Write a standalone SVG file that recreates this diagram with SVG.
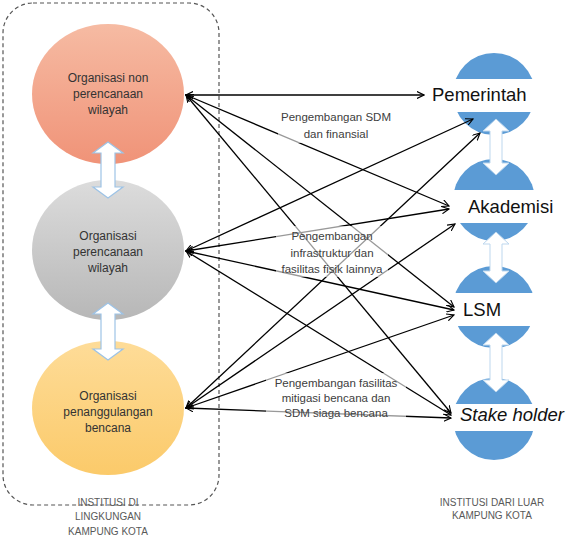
<svg xmlns="http://www.w3.org/2000/svg" width="574" height="545" viewBox="0 0 574 545">
<defs>
<linearGradient id="gO" x1="0" y1="0" x2="0" y2="1"><stop offset="0" stop-color="#f6bba3"/><stop offset="1" stop-color="#f09378"/></linearGradient>
<linearGradient id="gG" x1="0" y1="0" x2="0" y2="1"><stop offset="0" stop-color="#dcdcdc"/><stop offset="1" stop-color="#b7b7b7"/></linearGradient>
<linearGradient id="gY" x1="0" y1="0" x2="0" y2="1"><stop offset="0" stop-color="#fedc98"/><stop offset="1" stop-color="#fbca6a"/></linearGradient>
<marker id="ah" viewBox="0 0 10 10" refX="9" refY="5" markerWidth="8" markerHeight="8" markerUnits="userSpaceOnUse" orient="auto-start-reverse">
<path d="M0,0.5 L9,5 L0,9.5" fill="none" stroke="#000" stroke-width="1.4"/>
</marker>
</defs>
<style>
.frame{fill:none;stroke:#555;stroke-width:1.2;stroke-dasharray:4 3}
.ct{font-family:"Liberation Sans",Arial,sans-serif;font-size:12px;fill:#333;text-anchor:middle}
.lb{font-family:"Liberation Sans",Arial,sans-serif;font-size:11.5px;fill:#404040;text-anchor:middle}
.cap{font-family:"Liberation Sans",Arial,sans-serif;font-size:10px;fill:#595959;text-anchor:middle}
.rt{font-family:"Liberation Sans",Arial,sans-serif;font-size:18.5px;fill:#111}
.blue{fill:#5b9bd5}
.band{fill:#fff}
.dl{fill:#fff;stroke:#9dc3e6;stroke-width:1.2}
.dr{fill:#fff;stroke:#bdd7ee;stroke-width:1}
.cn line{stroke:#000;stroke-width:1.3;marker-start:url(#ah);marker-end:url(#ah)}
.box{fill:#fff;fill-opacity:0.6}
</style>
<rect class="frame" x="3" y="3" width="216" height="502" rx="30"/>
<g id="org-non">
<ellipse cx="108" cy="94" rx="76" ry="70" fill="url(#gO)"/>
<text class="ct" x="108" y="82">Organisasi non</text>
<text class="ct" x="108" y="98">perencanaan</text>
<text class="ct" x="108" y="114">wilayah</text>
</g>
<g id="org-per">
<ellipse cx="108" cy="250" rx="76" ry="70" fill="url(#gG)"/>
<text class="ct" x="108" y="240">Organisasi</text>
<text class="ct" x="108" y="256">perencanaan</text>
<text class="ct" x="108" y="272">wilayah</text>
</g>
<g id="org-pb">
<ellipse cx="108" cy="408" rx="76" ry="67" fill="url(#gY)"/>
<text class="ct" x="108" y="400">Organisasi</text>
<text class="ct" x="108" y="416">penanggulangan</text>
<text class="ct" x="108" y="432">bencana</text>
</g>
<g id="pemerintah">
<circle class="blue" cx="494" cy="94" r="41"/>
<rect class="band" x="450" y="79" width="90" height="33"/>
<text class="rt" x="432" y="101">Pemerintah</text>
</g>
<g id="akademisi">
<circle class="blue" cx="494" cy="200" r="41"/>
<rect class="band" x="450" y="190" width="90" height="33"/>
<text class="rt" x="468" y="213">Akademisi</text>
</g>
<g id="lsm">
<circle class="blue" cx="494" cy="307" r="41"/>
<rect class="band" x="450" y="293" width="90" height="33"/>
<text class="rt" x="463" y="316">LSM</text>
</g>
<g id="stakeholder">
<circle class="blue" cx="494" cy="419" r="41"/>
<rect class="band" x="450" y="404" width="90" height="27"/>
<text class="rt" x="460" y="421" font-style="italic">Stake holder</text>
</g>
<g id="double-arrows">
<path class="dl" d="M108,142 L123,153 L115,153 L115,187 L123,187 L108,198 L93,187 L101,187 L101,153 L93,153 Z"/>
<path class="dl" d="M108,303 L123,314 L115,314 L115,349 L123,349 L108,360 L93,349 L101,349 L101,314 L93,314 Z"/>
<path class="dr" d="M496,119 L509,131 L502,131 L502,163 L509,163 L496,175 L483,163 L490,163 L490,131 L483,131 Z"/>
<path class="dr" d="M496,232 L509,244 L502,244 L502,271 L509,271 L496,283 L483,271 L490,271 L490,244 L483,244 Z"/>
<path class="dr" d="M496,333 L509,345 L502,345 L502,380 L509,380 L496,392 L483,380 L490,380 L490,345 L483,345 Z"/>
</g>
<g id="connectors" class="cn">
<line x1="186" y1="95" x2="424" y2="95"/>
<line x1="186" y1="95" x2="449" y2="206"/>
<line x1="186" y1="95" x2="454" y2="307"/>
<line x1="186" y1="95" x2="451" y2="413"/>
<line x1="186" y1="251" x2="473" y2="119"/>
<line x1="186" y1="251" x2="449" y2="209"/>
<line x1="186" y1="251" x2="454" y2="310"/>
<line x1="186" y1="251" x2="451" y2="415"/>
<line x1="186" y1="408" x2="480" y2="133"/>
<line x1="186" y1="408" x2="455" y2="224"/>
<line x1="186" y1="408" x2="454" y2="315"/>
<line x1="186" y1="408" x2="451" y2="418"/>
</g>
<g id="label-sdm">
<rect class="box" x="278" y="107" width="117" height="36"/>
<text class="lb" x="336" y="121">Pengembangan SDM</text>
<text class="lb" x="336" y="138">dan finansial</text>
</g>
<g id="label-infra">
<rect class="box" x="276" y="226" width="112" height="51"/>
<text class="lb" x="332" y="240">Pengembangan</text>
<text class="lb" x="332" y="257">infrastruktur dan</text>
<text class="lb" x="332" y="273">fasilitas fisik lainnya</text>
</g>
<g id="label-mitigasi">
<rect class="box" x="266" y="373" width="140" height="48"/>
<text class="lb" x="336" y="387">Pengembangan fasilitas</text>
<text class="lb" x="336" y="402">mitigasi bencana dan</text>
<text class="lb" x="336" y="417">SDM siaga bencana</text>
</g>
<g id="caption-left">
<text class="cap" x="108" y="506">INSTITUSI DI</text>
<text class="cap" x="108" y="520">LINGKUNGAN</text>
<text class="cap" x="108" y="535">KAMPUNG KOTA</text>
</g>
<g id="caption-right">
<text class="cap" x="492" y="506">INSTITUSI DARI LUAR</text>
<text class="cap" x="492" y="519">KAMPUNG KOTA</text>
</g>
</svg>
